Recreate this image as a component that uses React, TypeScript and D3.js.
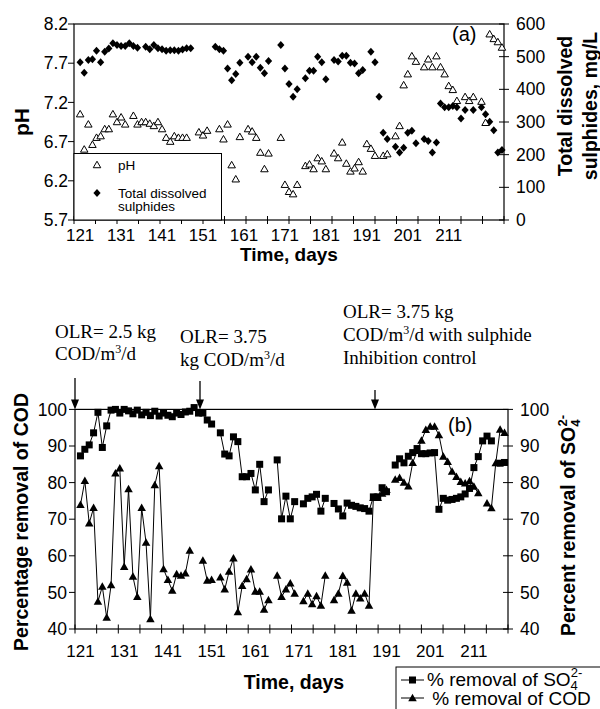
import React from "react";
import * as d3 from "d3";

const SANS = "'Liberation Sans', Arial, Helvetica, sans-serif";
const SERIF = "'Liberation Serif', 'Times New Roman', serif";

// ---------- Panel (a): pH and total dissolved sulphides ----------
const phDays = [121,122,123,124,125,126,127,128,129,130,131,132,134,135,136,137,138,139,140,141,142,143,144,145,146,147,
  150,151,152,155,156,157,158,159,160,162,163,164,165,166,167,170,171,172,173,174,176,177,178,179,180,181,
  183,184,185,186,187,188,189,190,191,192,193,195,196,198,199,200,201,202,203,205,206,207,208,209,210,211,212,213,
  215,216,217,219,220,221,222,223,224];
const phValues = [7.05,6.60,6.92,6.66,6.75,6.77,6.86,6.86,7.05,6.95,7.01,6.92,7.03,6.92,6.95,6.95,6.93,6.90,6.95,6.86,6.75,6.70,6.77,6.75,6.75,6.75,
  6.82,6.78,6.84,6.86,6.73,6.92,6.40,6.22,6.76,6.86,6.83,6.75,6.56,6.35,6.55,6.75,6.15,6.06,6.03,6.15,6.39,6.41,6.35,6.49,6.45,6.35,
  6.55,6.49,6.69,6.42,6.32,6.36,6.44,6.32,6.67,6.61,6.52,6.52,6.54,6.77,6.90,7.42,7.56,7.79,7.72,7.65,7.75,7.65,7.79,7.65,7.56,7.41,7.36,7.22,
  7.27,7.22,7.27,7.21,6.94,8.07,8.01,7.97,7.90];

const sulphideDays = [121,122,123,124,125,126,127,128,129,130,131,132,133,134,135,137,138,139,140,141,142,143,144,145,146,147,148,
  154,155,156,157,158,159,160,162,163,164,165,166,167,170,171,172,173,174,176,177,178,179,180,181,183,184,185,186,187,188,189,190,
  192,193,194,195,196,198,199,200,201,202,203,205,206,207,208,209,210,211,212,213,214,215,217,219,220,221,222,223,224];
const sulphideValues = [483,451,490,492,518,483,515,525,541,536,533,533,541,533,527,530,523,536,526,523,518,520,520,518,522,526,526,
  530,523,518,464,428,447,481,500,483,500,466,449,487,536,464,416,377,400,434,457,457,500,483,431,490,485,503,503,481,479,449,459,
  515,483,377,267,248,224,207,221,267,273,235,248,242,207,237,357,345,345,349,345,311,337,337,345,324,301,275,207,214];

const phTicks = [5.7, 6.2, 6.7, 7.2, 7.7, 8.2];
const sulphideTicks = [0, 100, 200, 300, 400, 500, 600];
const dayLabels = [121, 131, 141, 151, 161, 171, 181, 191, 201, 211];

// ---------- Panel (b): percentage removal ----------
const so4Days = [121,122,123,124,125,126,127,128,129,130,131,132,133,134,135,136,137,138,139,140,141,142,143,144,145,146,147,148,149,150,151,
  153,154,155,156,157,158,159,160,161,162,163,164,
  166,167,168,169,170,
  172,173,174,175,176,177,
  179,180,181,182,183,184,185,186,187,188,189,190,191,
  193,194,195,196,197,198,199,200,201,202,203,204,205,206,207,208,209,210,211,212,213,214,215,
  217,218];
const so4Values = [87.3,89.1,90.3,93.6,99.2,89.6,95.5,99.8,100,99,100,99.6,98.8,99.8,98.5,99.2,98.3,99.5,98.2,99,98.4,98,99,98.6,99.3,99.5,100.5,99,99,97.1,96,
  93.6,87.8,87.3,92.5,91.2,81.6,81.6,82.5,78,85,74.8,78,
  86.2,70.1,76.3,70.1,74.8,
  74.2,75.7,76.1,76.8,72.2,75.7,
  74.3,72.8,70.9,74.4,73.8,73.5,73.1,72.9,72.2,76.1,76.1,78.6,77.5,
  84.8,86.5,85.4,87.2,88.2,89.3,87.9,87.9,88.1,88.2,72.7,75.7,75.2,75.4,75.7,76.1,76.9,78.4,84.1,87.1,91.4,92.7,91.4,
  85.3,85.5];

const codDays = [121,122,123,124,125,126,127,128,129,130,131,132,133,134,135,136,137,138,139,140,141,142,143,144,145,146,
  149,150,151,
  153,154,155,156,157,158,159,160,161,162,163,164,
  166,167,168,169,170,
  172,173,174,175,176,177,
  179,180,181,182,183,184,185,186,187,188,189,190,191,
  193,194,195,196,197,198,199,200,201,202,203,204,205,206,207,208,209,210,211,212,
  214,215,216,217,218];
const codValues = [73.9,80.5,68.9,73.1,47.5,51.6,43.1,52,82.5,83.9,57,78.2,54.3,48.8,73.1,63.6,42.7,79.3,84.5,56.4,53.4,50.5,55,54.6,55.2,61.4,
  58.7,53.2,53.4,
  54.1,50.8,55.7,59.3,44.6,51.8,53.6,56.3,50.2,50.2,45.3,47.9,
  54.6,48.8,50.8,52.5,49.7,
  47.6,49.7,46.8,49,46.4,54.6,
  47.9,49.7,54.5,52.7,45,49.7,48.4,49.7,46.4,75.8,75.8,77,78,
  80.8,81.3,80,79,85.4,88.7,91.5,94.4,95.3,95.3,93,87.1,85.7,83,81.6,80.2,79.8,80.4,78.9,77.1,
  74.3,73,85.3,94.5,93.6];

const removalTicks = [40, 50, 60, 70, 80, 90, 100];

function segments(days: number[], vals: number[]): [number, number][][] {
  const out: [number, number][][] = [];
  let cur: [number, number][] = [];
  days.forEach((d, i) => {
    if (i > 0 && d - days[i - 1] > 1) { out.push(cur); cur = []; }
    cur.push([d, vals[i]]);
  });
  if (cur.length) out.push(cur);
  return out;
}

function evenTicks(sc: d3.ScaleLinear<number, number>, n: number) {
  const [a, b] = sc.domain();
  return d3.range(n + 1).map((i) => a + (i * (b - a)) / n);
}

export default function App() {
  // panel (a)
  const xA = d3.scaleLinear().domain([119.5, 224.5]).range([74, 504]);
  const yPH = d3.scaleLinear().domain([5.7, 8.2]).range([220, 24]);
  const yS = d3.scaleLinear().domain([0, 600]).range([220, 24]);
  // panel (b)
  const xB = d3.scaleLinear().domain([119.75, 218.8]).range([75, 508]);
  const yR = d3.scaleLinear().domain([40, 100]).range([629, 409.4]);

  const lineB = d3.line<[number, number]>().x((d) => xB(d[0])).y((d) => yR(d[1]));

  const tri = (cx: number, cy: number, w: number, h: number) =>
    `M${cx},${cy - h * 0.58}L${cx + w / 2},${cy + h * 0.42}L${cx - w / 2},${cy + h * 0.42}Z`;
  const diamond = (cx: number, cy: number) =>
    `M${cx},${cy - 4}L${cx + 3.6},${cy}L${cx},${cy + 4}L${cx - 3.6},${cy}Z`;

  const [a0, a1] = xA.range();
  const [b0, b1] = xB.range();

  const arrows = [
    { x: 75, y0: 378 },
    { x: 200, y0: 381 },
    { x: 375, y0: 390 },
  ];

  return (
    <svg width={600} height={709} style={{ position: "absolute", left: 0, top: 0, background: "#fff" }}
      fontFamily={SANS}>
      <rect x={0} y={0} width={600} height={709} fill="#fff" />

      {/* ================= Panel (a) ================= */}
      <rect x={a0} y={yPH(8.2)} width={a1 - a0} height={yPH(5.7) - yPH(8.2)} fill="none" stroke="#000" strokeWidth={1.2} />
      {phTicks.map((t) => (
        <g key={"ph" + t}>
          <line x1={a0 - 6} x2={a0} y1={yPH(t)} y2={yPH(t)} stroke="#000" />
          <text x={a0 - 6} y={yPH(t)} dy="0.35em" textAnchor="end" fontSize={17.5}>{t.toFixed(1)}</text>
        </g>
      ))}
      {sulphideTicks.map((t) => (
        <g key={"s" + t}>
          <line x1={a1 - 5} x2={a1 + 5} y1={yS(t)} y2={yS(t)} stroke="#000" />
          <text x={a1 + 12} y={yS(t)} dy="0.35em" fontSize={17.5}>{t}</text>
        </g>
      ))}
      {evenTicks(xA, 20).map((t, i) => (
        <line key={"xa" + i} x1={xA(t)} x2={xA(t)} y1={yPH(5.7) - 4} y2={yPH(5.7) + 4} stroke="#000" />
      ))}
      {dayLabels.map((d) => (
        <text key={"la" + d} x={xA(d)} y={241} textAnchor="middle" fontSize={17}>{d}</text>
      ))}
      <text x={289} y={261} textAnchor="middle" fontSize={19} fontWeight="bold">Time, days</text>
      <text transform="translate(29,122) rotate(-90)" textAnchor="middle" fontSize={21} fontWeight="bold">pH</text>
      <text transform="translate(572,106) rotate(-90)" textAnchor="middle" fontSize={19.5} fontWeight="bold">Total dissolved</text>
      <text transform="translate(597,106) rotate(-90)" textAnchor="middle" fontSize={19.5} fontWeight="bold">sulphides, mg/L</text>
      <text x={452} y={41} fontSize={20}>(a)</text>

      {sulphideDays.map((d, i) => (
        <path key={"sd" + i} d={diamond(xA(d), yS(sulphideValues[i]))} fill="#000" />
      ))}
      {phDays.map((d, i) => (
        <path key={"pd" + i} d={tri(xA(d), yPH(phValues[i]), 7.5, 6.5)} fill="#fff" stroke="#000" strokeWidth={1} />
      ))}

      {/* legend (a) */}
      <rect x={74} y={153.5} width={147.5} height={66.5} fill="#fff" stroke="#000" strokeWidth={1} />
      <path d={tri(97, 165, 7.5, 6.5)} fill="#fff" stroke="#000" />
      <text x={118} y={169.5} fontSize={13.5}>pH</text>
      <path d={diamond(97, 193)} fill="#000" />
      <text x={118} y={197.5} fontSize={13.5}>Total dissolved</text>
      <text x={118} y={210.5} fontSize={13.5}>sulphides</text>

      {/* ================= Panel (b) ================= */}
      <rect x={b0} y={yR(100)} width={b1 - b0} height={yR(40) - yR(100)} fill="none" stroke="#000" strokeWidth={1.2} />
      {removalTicks.map((t) => (
        <g key={"r" + t}>
          <line x1={b0 - 6} x2={b0} y1={yR(t)} y2={yR(t)} stroke="#000" />
          <text x={b0 - 8} y={yR(t)} dy="0.35em" textAnchor="end" fontSize={17.5}>{t}</text>
          <line x1={b1 - 5} x2={b1 + 5} y1={yR(t)} y2={yR(t)} stroke="#000" />
          <text x={b1 + 12} y={yR(t)} dy="0.35em" fontSize={17.5}>{t}</text>
        </g>
      ))}
      {evenTicks(xB, 20).map((t, i) => (
        <line key={"xb" + i} x1={xB(t)} x2={xB(t)} y1={yR(40) - 4.5} y2={yR(40) + 4.5} stroke="#000" />
      ))}
      {dayLabels.map((d) => (
        <text key={"lb" + d} x={xB(d)} y={657} textAnchor="middle" fontSize={17}>{d}</text>
      ))}
      <text x={294} y={689} textAnchor="middle" fontSize={19.5} fontWeight="bold">Time, days</text>
      <text transform="translate(28,522) rotate(-90)" textAnchor="middle" fontSize={19.5} fontWeight="bold">Percentage removal of COD</text>
      <text transform="translate(575,636) rotate(-90)" fontSize={19.5} fontWeight="bold">
        Percent removal of SO<tspan fontSize={13} dy={5}>4</tspan><tspan fontSize={13} dx={-7} dy={-13}>2-</tspan>
      </text>
      <text x={448} y={432} fontSize={20}>(b)</text>

      {segments(so4Days, so4Values).map((s, i) => (
        <path key={"sl" + i} d={lineB(s) || ""} fill="none" stroke="#000" strokeWidth={1} />
      ))}
      {segments(codDays, codValues).map((s, i) => (
        <path key={"cl" + i} d={lineB(s) || ""} fill="none" stroke="#000" strokeWidth={1} />
      ))}
      {so4Days.map((d, i) => (
        <rect key={"sq" + i} x={xB(d) - 3.5} y={yR(so4Values[i]) - 3.5} width={7} height={7} fill="#000" />
      ))}
      {codDays.map((d, i) => (
        <path key={"ct" + i} d={tri(xB(d), yR(codValues[i]), 8.5, 7.5)} fill="#000" />
      ))}

      {/* annotations */}
      <g fontFamily={SERIF} fontSize={19}>
        <text x={55} y={338}>OLR= 2.5 kg</text>
        <text x={55} y={360}>COD/m<tspan fontSize={12} dy={-7}>3</tspan><tspan dy={7}>/d</tspan></text>
        <text x={180} y={343}>OLR= 3.75</text>
        <text x={180} y={366}>kg COD/m<tspan fontSize={12} dy={-7}>3</tspan><tspan dy={7}>/d</tspan></text>
        <text x={343} y={318}>OLR= 3.75 kg</text>
        <text x={343} y={341}>COD/m<tspan fontSize={12} dy={-7}>3</tspan><tspan dy={7}>/d with sulphide</tspan></text>
        <text x={343} y={364}> Inhibition control</text>
      </g>
      {arrows.map((a, i) => (
        <g key={"ar" + i}>
          <line x1={a.x} x2={a.x} y1={a.y0} y2={yR(100) - 8} stroke="#000" strokeWidth={1.3} />
          <path d={`M${a.x - 4},${yR(100) - 10}L${a.x + 4},${yR(100) - 10}L${a.x},${yR(100)}Z`} fill="#000" />
        </g>
      ))}

      {/* legend (b) */}
      <rect x={396} y={667} width={220} height={60} fill="#fff" stroke="#000" strokeWidth={1} />
      <line x1={401} x2={424} y1={680} y2={680} stroke="#000" />
      <rect x={409} y={676.5} width={7} height={7} fill="#000" />
      <text x={427} y={686} fontSize={19}>% removal of SO<tspan fontSize={13} dy={4}>4</tspan><tspan fontSize={13} dx={-7} dy={-13}>2-</tspan></text>
      <line x1={401} x2={424} y1={698} y2={698} stroke="#000" />
      <path d={tri(412.5, 698, 8.5, 7.5)} fill="#000" />
      <text x={427} y={705} fontSize={19} xmlSpace="preserve"> % removal of COD</text>
    </svg>
  );
}
